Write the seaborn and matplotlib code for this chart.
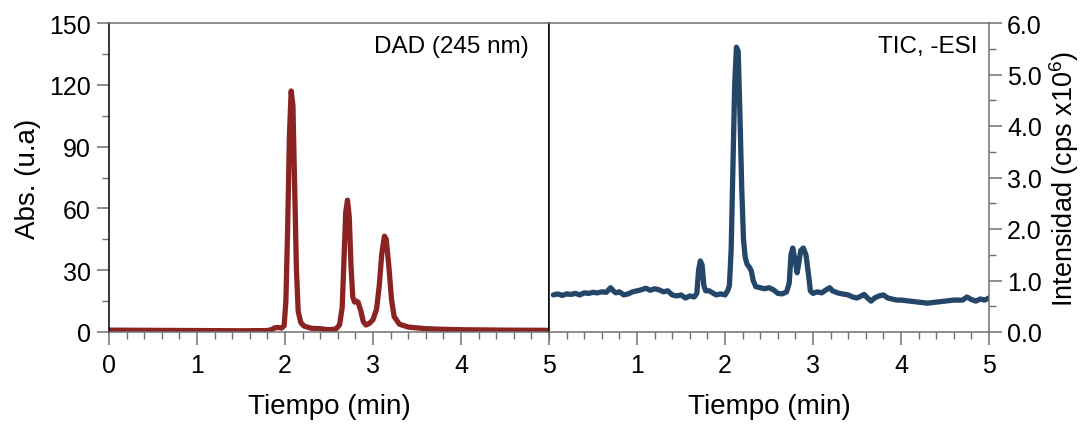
import matplotlib
matplotlib.use("Agg")
import matplotlib.pyplot as plt
import seaborn as sns
from matplotlib.ticker import MultipleLocator

# ---------------- data ----------------
dad_time = [0.00, 0.50, 1.00, 1.50, 1.80, 1.85, 1.88, 1.92, 1.96, 1.99,
            2.01, 2.03, 2.05, 2.07, 2.09, 2.11, 2.13, 2.15, 2.18, 2.22,
            2.30, 2.40, 2.50, 2.58, 2.62, 2.65, 2.67, 2.69, 2.71, 2.73,
            2.75, 2.77, 2.79, 2.81, 2.83, 2.86, 2.89, 2.92, 2.96, 3.00,
            3.04, 3.07, 3.10, 3.13, 3.15, 3.18, 3.21, 3.24, 3.30, 3.40,
            3.60, 3.80, 4.00, 4.50, 5.00]
dad_abs = [0.9, 0.8, 0.7, 0.6, 0.7, 1.2, 2.0, 2.2, 1.9, 3.0,
           15.0, 50.0, 95.0, 117.0, 110.0, 70.0, 30.0, 10.0, 4.5, 2.8,
           1.8, 1.6, 1.1, 1.5, 3.5, 12.0, 35.0, 58.0, 64.0, 56.0,
           32.0, 17.0, 14.5, 15.0, 14.5, 10.5, 5.0, 3.4, 4.2, 6.0,
           11.0, 22.0, 38.0, 46.5, 45.0, 32.0, 16.0, 7.5, 3.8, 2.4,
           1.6, 1.3, 1.1, 0.9, 0.8]

tic_time = [0.05, 0.10, 0.15, 0.20, 0.25, 0.30, 0.35, 0.40, 0.45, 0.50,
            0.55, 0.60, 0.65, 0.70, 0.73, 0.76, 0.80, 0.85, 0.90, 0.95,
            1.00, 1.05, 1.10, 1.15, 1.20, 1.25, 1.30, 1.35, 1.40, 1.45,
            1.50, 1.55, 1.60, 1.65, 1.68, 1.70, 1.72, 1.74, 1.76, 1.78,
            1.82, 1.86, 1.90, 1.95, 2.00, 2.03, 2.05, 2.07, 2.09, 2.11,
            2.13, 2.15, 2.17, 2.19, 2.21, 2.23, 2.25, 2.28, 2.30, 2.32,
            2.35, 2.40, 2.45, 2.50, 2.55, 2.60, 2.65, 2.70, 2.73, 2.75,
            2.77, 2.79, 2.82, 2.84, 2.86, 2.89, 2.92, 2.95, 2.97, 3.00,
            3.05, 3.10, 3.15, 3.19, 3.22, 3.28, 3.33, 3.40, 3.45, 3.50,
            3.55, 3.58, 3.62, 3.66, 3.70, 3.75, 3.80, 3.85, 3.90, 3.95,
            4.00, 4.10, 4.20, 4.30, 4.40, 4.50, 4.60, 4.70, 4.75, 4.80,
            4.85, 4.90, 4.95, 5.00]
tic_int = [0.72, 0.74, 0.71, 0.74, 0.73, 0.75, 0.72, 0.76, 0.75, 0.77,
           0.76, 0.78, 0.77, 0.86, 0.80, 0.76, 0.78, 0.72, 0.74, 0.78,
           0.80, 0.82, 0.85, 0.81, 0.84, 0.82, 0.78, 0.80, 0.72, 0.70,
           0.72, 0.66, 0.70, 0.68, 0.75, 1.20, 1.38, 1.30, 0.90, 0.80,
           0.80, 0.76, 0.72, 0.74, 0.72, 0.80, 0.90, 1.60, 3.20, 4.80,
           5.53, 5.45, 4.20, 2.80, 1.80, 1.45, 1.32, 1.25, 1.18, 1.00,
           0.88, 0.86, 0.84, 0.86, 0.82, 0.75, 0.74, 0.78, 0.95, 1.50,
           1.63, 1.45, 1.15, 1.35, 1.58, 1.63, 1.50, 1.10, 0.80, 0.75,
           0.78, 0.76, 0.82, 0.86, 0.80, 0.76, 0.74, 0.72, 0.68, 0.66,
           0.70, 0.73, 0.66, 0.60, 0.66, 0.70, 0.72, 0.66, 0.64, 0.62,
           0.62, 0.60, 0.58, 0.56, 0.58, 0.60, 0.62, 0.62, 0.68, 0.63,
           0.60, 0.64, 0.62, 0.66]

dad_color = "#8B2323"
tic_color = "#234669"
spine_gray = "#707070"

# ---------------- style ----------------
sns.set_style("ticks")
plt.rcParams['font.family'] = ['Liberation Sans', 'DejaVu Sans']
plt.rcParams['mathtext.fontset'] = 'custom'
plt.rcParams['mathtext.rm'] = 'Liberation Sans'
plt.rcParams['text.color'] = 'black'
plt.rcParams['axes.labelcolor'] = 'black'
plt.rcParams['xtick.labelcolor'] = 'black'
plt.rcParams['ytick.labelcolor'] = 'black'

fig = plt.figure(figsize=(10.88, 4.27), dpi=100)
ax1 = fig.add_axes([109 / 1088, 1 - 333 / 427, 440 / 1088, 309 / 427])
ax2 = fig.add_axes([549 / 1088, 1 - 333 / 427, 440 / 1088, 309 / 427])

sns.lineplot(x=dad_time, y=dad_abs, ax=ax1, color=dad_color, lw=3.8)
sns.lineplot(x=tic_time, y=tic_int, ax=ax2, color=tic_color, lw=3.8)

for ax in (ax1, ax2):
    ax.set_xlim(0, 5)
    ax.xaxis.set_major_locator(MultipleLocator(1))
    ax.xaxis.set_minor_locator(MultipleLocator(0.2))
    ax.tick_params(axis='both', which='major', direction='out', length=9,
                   width=1.1, color=spine_gray, labelsize=18, pad=6)
    ax.tick_params(axis='y', which='major', pad=4)
    ax.tick_params(axis='both', which='minor', direction='out', length=5,
                   width=1.0, color=spine_gray)
    ax.set_xlabel("Tiempo (min)", fontsize=20, labelpad=12)
    for s in ax.spines.values():
        s.set_color(spine_gray)
        s.set_linewidth(1.1)

# left panel
ax1.set_ylim(0, 150)
ax1.yaxis.set_major_locator(MultipleLocator(30))
ax1.yaxis.set_minor_locator(MultipleLocator(15))
ax1.set_ylabel("Abs. (u.a)", fontsize=20, labelpad=6)
ax1.spines['left'].set_color('black')
ax1.spines['right'].set_color('black')
ax1.text(0.955, 0.925, "DAD (245 nm)", transform=ax1.transAxes,
         ha='right', va='center', fontsize=17.5)

# right panel
ax2.set_ylim(0, 6.0)
ax2.yaxis.set_major_locator(MultipleLocator(1.0))
ax2.yaxis.set_minor_locator(MultipleLocator(0.5))
ax2.yaxis.set_major_formatter(plt.FuncFormatter(lambda v, p: f"{v:.1f}"))
ax2.yaxis.tick_right()
ax2.yaxis.set_label_position('right')
ax2.set_ylabel("Intensidad (cps x10$^6$)", fontsize=19.5, labelpad=4)
ax2.spines['left'].set_color('black')
ax2.set_xticks([1, 2, 3, 4, 5])
ax2.text(0.975, 0.925, "TIC, -ESI", transform=ax2.transAxes,
         ha='right', va='center', fontsize=17.5)

fig.savefig("out.png", dpi=100)
